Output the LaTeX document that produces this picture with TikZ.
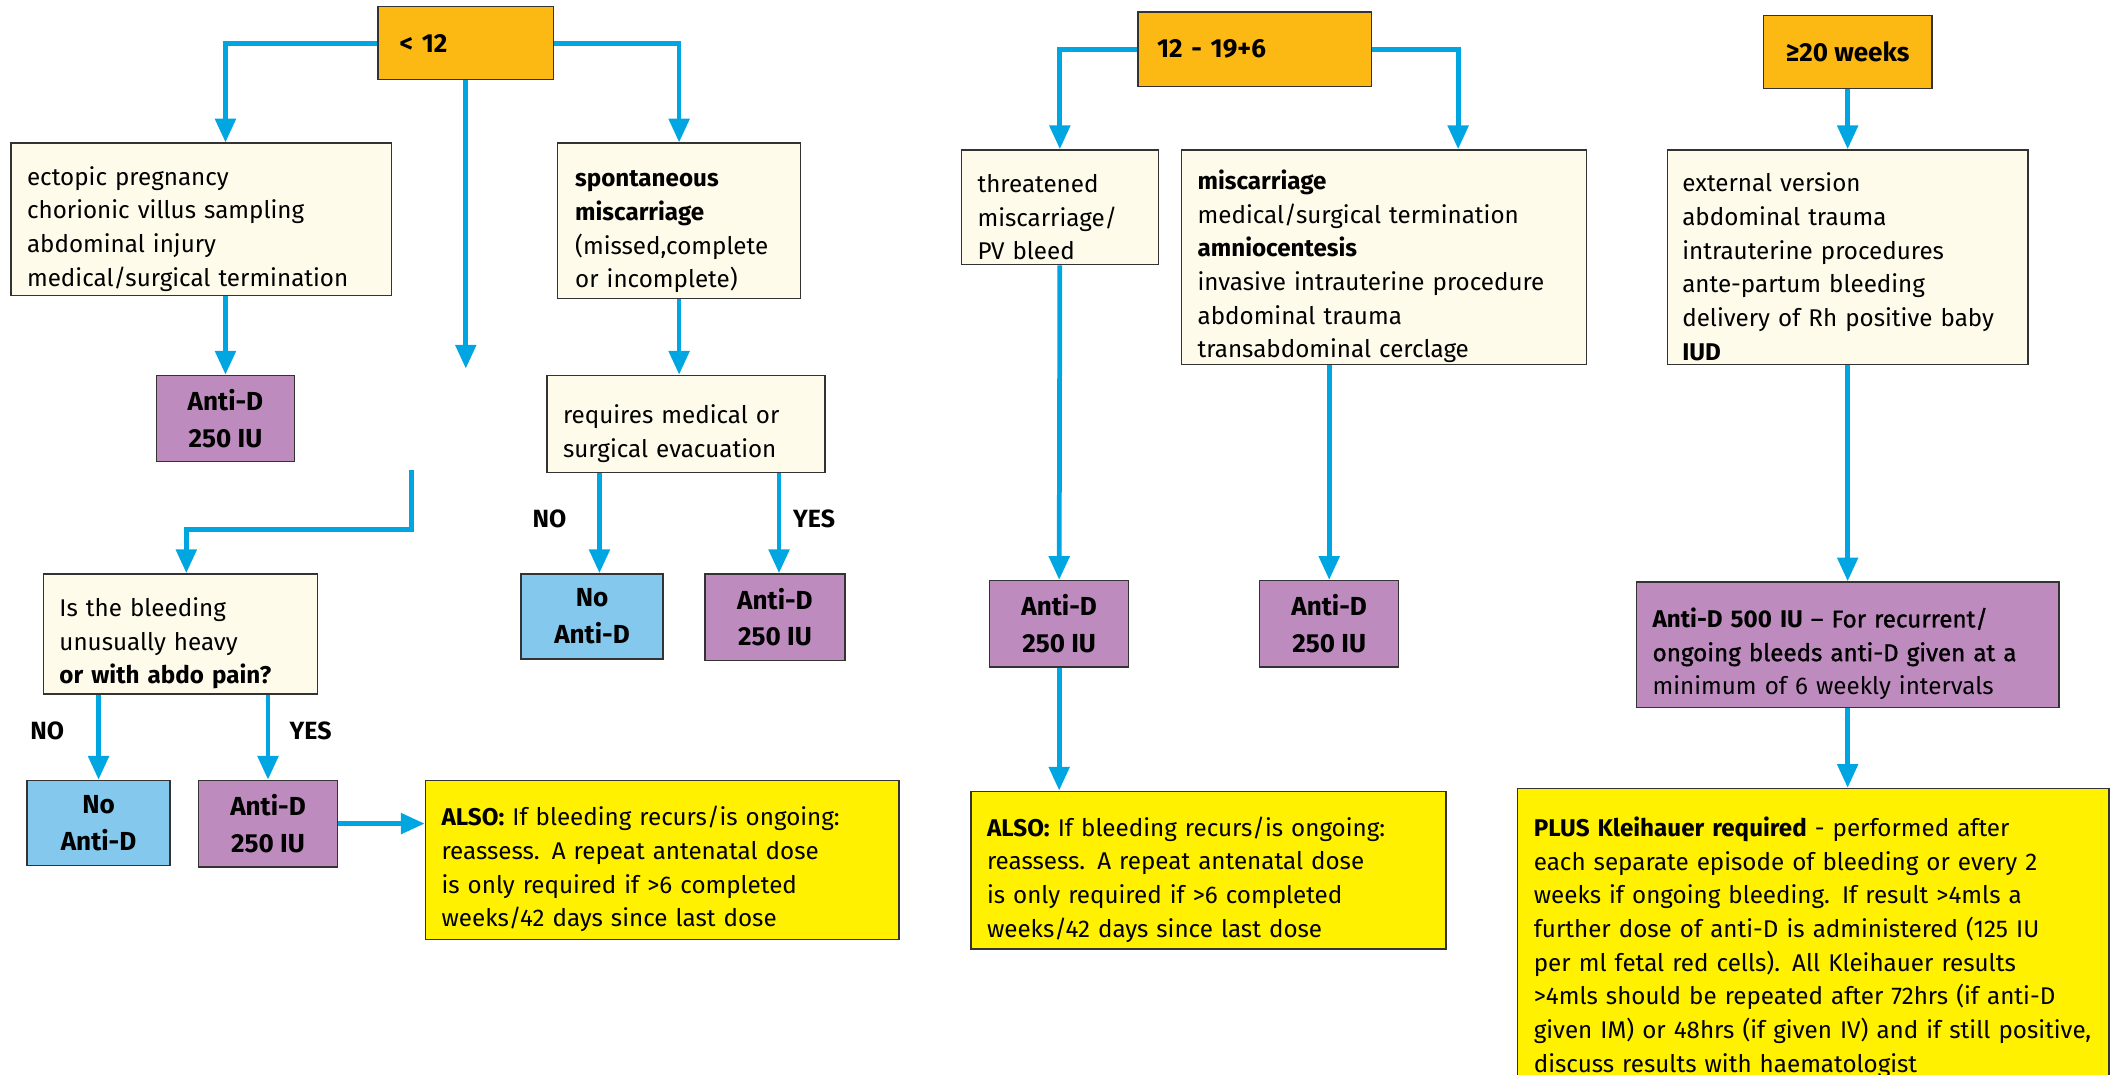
\documentclass[tikz,border=0pt]{standalone}
\usepackage{fontspec}
\setmainfont{Fira Sans}
\newfontfamily\semibold[FakeBold=1.2]{Fira Sans}
\usetikzlibrary{positioning, arrows.meta}
\definecolor{hdrOrange}{RGB}{252,185,20}
\definecolor{condCream}{RGB}{255,251,234}
\definecolor{dosePurple}{RGB}{190,139,190}
\definecolor{noBlue}{RGB}{133,200,238}
\definecolor{noteYellow}{RGB}{255,241,0}
\definecolor{flowBlue}{RGB}{0,166,226}
\tikzset{
	box/.style={rectangle, draw=black!80, line width=.6pt, inner sep=0pt, font=\fontsize{10.2}{14.2}\selectfont},
	hdr/.style={box, fill=hdrOrange, font=\fontsize{11}{14}\selectfont\bfseries},
	cond/.style={box, fill=condCream, align=left, execute at begin node={\rule{0pt}{16pt}}},
	dose/.style={box, fill=dosePurple, align=center, font=\fontsize{11}{15.5}\selectfont\bfseries,
		execute at begin node={\rule{0pt}{12pt}}},
	nodose/.style={dose, fill=noBlue},
	note/.style={cond, fill=noteYellow},
	flow/.style={flowBlue, line width=2pt, -{Triangle[length=10pt,width=8.5pt]}},
	yesno/.style={font=\fontsize{10.5}{12}\selectfont\bfseries}
}

\begin{document}
\begin{tikzpicture}[x=0.02cm, y=-0.02cm]
\useasboundingbox (0,0) rectangle (1568,796);

% headers
\node[hdr, minimum width=2.6cm, minimum height=1.08cm, text width=1.96cm, align=left] (lt12) at (345,32) {< 12};
\node[hdr, minimum width=3.46cm, minimum height=1.1cm, text width=2.9cm, align=left] (mid) at (929.5,36.5) {12 - 19+6};
\node[hdr, minimum width=2.5cm, minimum height=1.08cm, align=center] (ge20) at (1368.5,38.5) {≥20 weeks};

% < 12 weeks
\node[cond, minimum width=5.64cm, minimum height=2.26cm, text width=5.16cm] (early) at (149,162.5)
  {ectopic pregnancy\\chorionic villus sampling\\abdominal injury\\medical/surgical termination};
\node[dose, minimum width=2.04cm, minimum height=1.28cm] (doseA) at (167,310) {Anti-D\\250 IU};
\node[cond, minimum width=3.6cm, minimum height=2.3cm, text width=3.08cm] (spont) at (503,163.5)
  {\textbf{spontaneous}\\\textbf{miscarriage}\\(missed,complete\\or incomplete)};
\node[cond, minimum width=4.12cm, minimum height=1.44cm, text width=3.64cm] (evac) at (508,314)
  {requires medical or\\surgical evacuation};
\node[nodose, minimum width=2.1cm, minimum height=1.26cm] (noEvac) at (438.5,456.5) {No\\Anti-D};
\node[dose, minimum width=2.08cm, minimum height=1.28cm] (doseEvac) at (574,457) {Anti-D\\250 IU};
\node[cond, minimum width=4.06cm, minimum height=1.78cm, text width=3.58cm] (heavy) at (133.5,469.5)
  {Is the bleeding\\unusually heavy\\\textbf{or with abdo pain?}};
\node[nodose, minimum width=2.12cm, minimum height=1.26cm] (noHeavy) at (73,609.5) {No\\Anti-D};
\node[dose, minimum width=2.06cm, minimum height=1.28cm] (doseHeavy) at (198.5,610) {Anti-D\\250 IU};
\node[note, minimum width=7.02cm, minimum height=2.36cm, text width=6.54cm] (alsoEarly) at (490.5,637)
  {\textbf{ALSO:} If bleeding recurs/is ongoing:\\reassess. A repeat antenatal dose\\is only required if >6 completed\\weeks/42 days since last dose};
\node[yesno] (noA) at (35,541) {NO};
\node[yesno] (yesA) at (230,541) {YES};
\node[yesno] (noB) at (407,384) {NO};
\node[yesno] (yesB) at (603,384) {YES};

% 12 - 19+6 weeks
\node[cond, minimum width=2.92cm, minimum height=1.7cm, text width=2.44cm] (threat) at (785,153.5)
  {threatened\\miscarriage/\\PV bleed};
\node[dose, minimum width=2.06cm, minimum height=1.28cm] (doseThreat) at (784.5,462) {Anti-D\\250 IU};
\node[note, minimum width=7.04cm, minimum height=2.34cm, text width=6.56cm] (alsoMid) at (895,644.5)
  {\textbf{ALSO:} If bleeding recurs/is ongoing:\\reassess. A repeat antenatal dose\\is only required if >6 completed\\weeks/42 days since last dose};
\node[cond, minimum width=6cm, minimum height=3.18cm, text width=5.52cm] (procMid) at (1025,190.5)
  {\textbf{miscarriage}\\medical/surgical termination\\\textbf{amniocentesis}\\invasive intrauterine procedure\\abdominal trauma\\transabdominal cerclage};
\node[dose, minimum width=2.06cm, minimum height=1.28cm] (doseProc) at (984.5,462) {Anti-D\\250 IU};

% >= 20 weeks
\node[cond, minimum width=5.34cm, minimum height=3.18cm, text width=4.9cm] (procLate) at (1368.5,190.5)
  {external version\\abdominal trauma\\intrauterine procedures\\ante-partum bleeding\\delivery of Rh positive baby\\\textbf{IUD}};
\node[cond, fill=dosePurple, minimum width=6.26cm, minimum height=1.86cm, text width=5.78cm] (doseLate) at (1368.5,477.5)
  {\textbf{Anti-D 500 IU} {\semibold – For recurrent/}\\{\semibold ongoing bleeds anti-D given at a}\\minimum of 6 weekly intervals};
\node[box, fill=noteYellow, align=left, minimum width=8.76cm, minimum height=4.7cm, text width=8.28cm] (kleih) at (1343,701.5)
  {\textbf{PLUS Kleihauer required} - performed after\\each separate episode of bleeding or every 2\\weeks if ongoing bleeding. If result >4mls a\\further dose of anti-D is administered (125 IU\\per ml fetal red cells). All Kleihauer results\\>4mls should be repeated after 72hrs (if anti-D\\given IM) or 48hrs (if given IV) and if still positive,\\discuss results with haematologist};

% arrows
\draw[flow] (lt12.west) -| (early.north -| doseA.north);
\draw[flow] (lt12.east) -| (spont.north);
\coordinate (gapTop) at (345,273);
\draw[flow] (lt12.south) -- (gapTop);
\coordinate (gapBot) at (305,348);
\draw[flow] (gapBot) -- ++(0,44) -| ([xshift=0.09cm]heavy.north);
\draw[flow] (early.south -| doseA.north) -- (doseA.north);
\draw[flow] (spont.south) -- (spont.south |- evac.north);
\draw[flow] ([xshift=0.11cm]evac.south -| noEvac.north) -- ([xshift=0.11cm]noEvac.north);
\draw[flow] ([xshift=0.06cm]evac.south -| doseEvac.north) -- ([xshift=0.06cm]doseEvac.north);
\draw[flow] (heavy.south -| noHeavy.north) -- (noHeavy.north);
\draw[flow] (heavy.south -| doseHeavy.north) -- (doseHeavy.north);
\draw[flow] (doseHeavy.east) -- (doseHeavy.east -| alsoEarly.west);

\draw[flow] (mid.west) -| (threat.north);
\draw[flow] (mid.east) -| ([xshift=1.1cm]procMid.north);
\draw[flow] (threat.south) -- (doseThreat.north);
\draw[flow] (doseThreat.south) -- (doseThreat.south |- alsoMid.north);
\draw[flow] (procMid.south -| doseProc.north) -- (doseProc.north);

\draw[flow] (ge20.south) -- (procLate.north);
\draw[flow] (procLate.south) -- (doseLate.north);
\draw[flow] (doseLate.south) -- (doseLate.south |- kleih.north);
\end{tikzpicture}
\end{document}
